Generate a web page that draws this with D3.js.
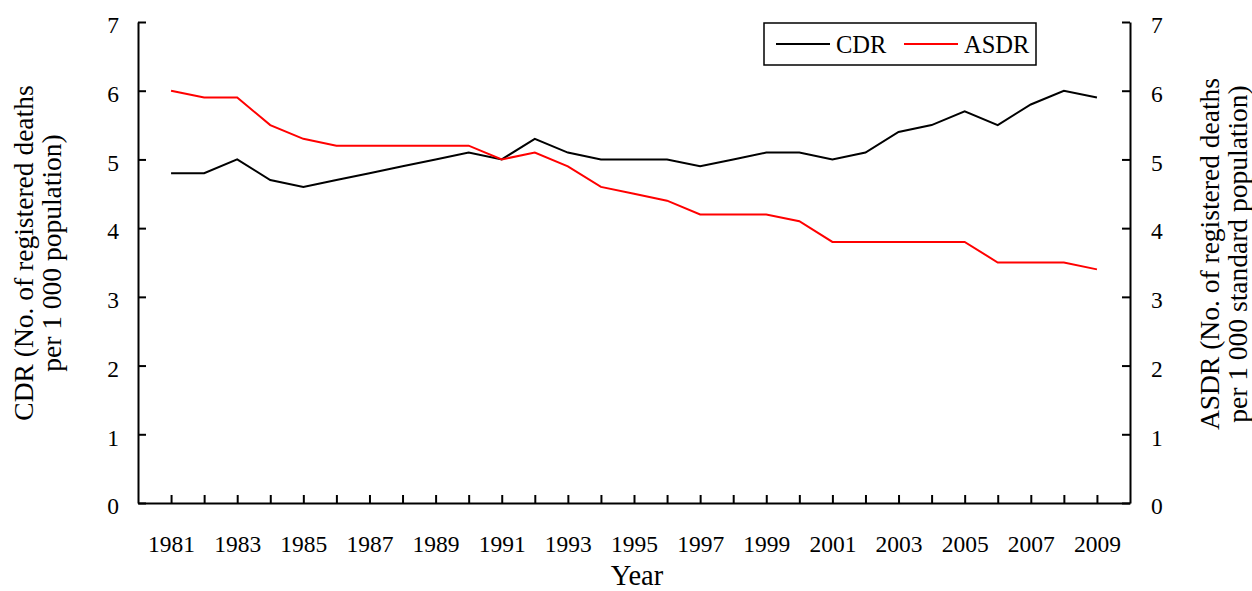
<html>
<head>
<script src="https://d3js.org/d3.v7.min.js"></script>
<style>
  body { margin: 0; background: #fff; }
  svg { font-family: "Liberation Serif", "Times New Roman", serif; }
  .tick text { font-size: 23.5px; fill: #000; }
  .title { font-size: 27.5px; }
  .xtitle { font-size: 28.5px; }
  .legend text { font-size: 24.5px; }
</style>
</head>
<body>
<div id="chart"></div>
<script>
// data
const years = d3.range(1981, 2010);
const cdr = [4.8, 4.8, 5.0, 4.7, 4.6, 4.7, 4.8, 4.9, 5.0, 5.1,
             5.0, 5.3, 5.1, 5.0, 5.0, 5.0, 4.9, 5.0, 5.1, 5.1,
             5.0, 5.1, 5.4, 5.5, 5.7, 5.5, 5.8, 6.0, 5.9];
const asdr = [6.0, 5.9, 5.9, 5.5, 5.3, 5.2, 5.2, 5.2, 5.2, 5.2,
              5.0, 5.1, 4.9, 4.6, 4.5, 4.4, 4.2, 4.2, 4.2, 4.1,
              3.8, 3.8, 3.8, 3.8, 3.8, 3.5, 3.5, 3.5, 3.4];
const yTicks = [0, 1, 2, 3, 4, 5, 6, 7];

const svg = d3.select("#chart").append("svg")
  .attr("width", 1252)
  .attr("height", 591);

const margin = { top: 22, left: 138, right: 122, bottom: 88 };
const width = 1252 - margin.left - margin.right;
const height = 591 - margin.top - margin.bottom;

const chart = svg.append("g").attr("transform", `translate(${margin.left},${margin.top})`);

const x = d3.scaleLinear().domain([1980, 2010]).range([0, width]);
const yL = d3.scaleLinear().domain([0, 7]).range([height, 0]);
const yR = d3.scaleLinear().domain([0, 7]).range([height, 0]);

// axes
const xAxis = chart.append("g")
  .attr("transform", `translate(0,${height})`)
  .call(d3.axisBottom(x).tickValues(years)
    .tickFormat((d, i) => i % 2 == 0 ? d : "")
    .tickSizeInner(-8).tickSizeOuter(0));
xAxis.selectAll("text").attr("y", 49).attr("dy", 0);

const leftAxis = chart.append("g")
  .call(d3.axisLeft(yL).tickValues(yTicks).tickFormat(d3.format("d"))
    .tickSizeInner(-8).tickSizeOuter(0).tickPadding(19));
leftAxis.selectAll("text").attr("dy", "0.46em");

const rightAxis = chart.append("g")
  .attr("transform", `translate(${width},0)`)
  .call(d3.axisRight(yR).tickValues(yTicks).tickFormat(d3.format("d"))
    .tickSizeInner(-8).tickSizeOuter(0).tickPadding(21));
rightAxis.selectAll("text").attr("dy", "0.46em");

[xAxis, leftAxis, rightAxis].forEach(g => g.attr("font-family", null).attr("font-size", null));

chart.selectAll(".domain, .tick line")
  .attr("stroke", "#000")
  .attr("stroke-width", 2);

// lines
const lineL = d3.line().x((d, i) => x(years[i])).y(d => yL(d));
const lineR = d3.line().x((d, i) => x(years[i])).y(d => yR(d));

chart.append("path")
  .datum(cdr)
  .attr("fill", "none")
  .attr("stroke", "#000")
  .attr("stroke-width", 2)
  .attr("d", lineL);

chart.append("path")
  .datum(asdr)
  .attr("fill", "none")
  .attr("stroke", "#ff0000")
  .attr("stroke-width", 2)
  .attr("d", lineR);

// axis titles
svg.append("text").attr("class", "xtitle")
  .attr("x", margin.left + width / 2 + 3).attr("y", 585)
  .attr("text-anchor", "middle")
  .text("Year");

const leftTitle = svg.append("text").attr("class", "title")
  .attr("transform", "translate(0,253) rotate(-90)")
  .attr("text-anchor", "middle");
leftTitle.append("tspan").attr("x", 0).attr("y", 33).text("CDR (No. of registered deaths");
leftTitle.append("tspan").attr("x", 0).attr("y", 61).text("per 1 000 population)");

const rightTitle = svg.append("text").attr("class", "title")
  .attr("transform", "translate(0,254) rotate(-90)")
  .attr("text-anchor", "middle");
rightTitle.append("tspan").attr("x", 0).attr("y", 1219).text("ASDR (No. of registered deaths");
rightTitle.append("tspan").attr("x", 0).attr("y", 1247).text("per 1 000 standard population)");

// legend
const legend = svg.append("g").attr("class", "legend");
legend.append("rect")
  .attr("x", 764).attr("y", 23).attr("width", 272).attr("height", 42)
  .attr("fill", "#fff").attr("stroke", "#000").attr("stroke-width", 1.5);
const items = [
  { name: "CDR", color: "#000", x: 776 },
  { name: "ASDR", color: "#ff0000", x: 904 }
];
items.forEach(it => {
  legend.append("line")
    .attr("x1", it.x).attr("x2", it.x + 54)
    .attr("y1", 44).attr("y2", 44)
    .attr("stroke", it.color).attr("stroke-width", 2);
  legend.append("text")
    .attr("x", it.x + 60).attr("y", 53)
    .text(it.name);
});
</script>
</body>
</html>
